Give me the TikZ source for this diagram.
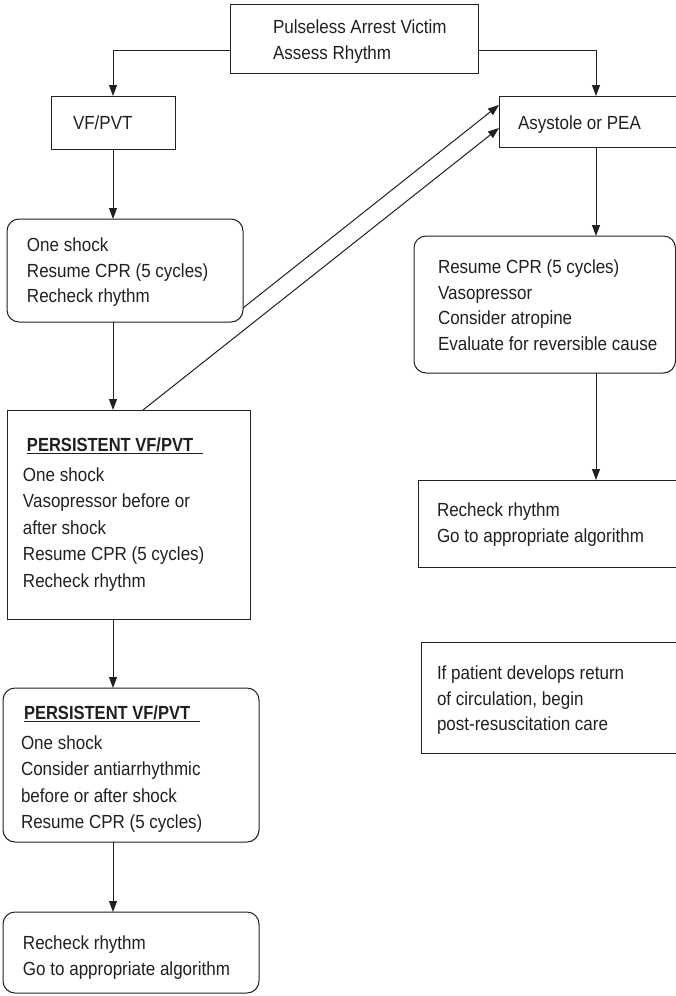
\documentclass[tikz,border=0pt]{standalone}
\usepackage{fontspec}
\setmainfont[FakeStretch=0.895]{Liberation Sans}
\newfontfamily\headfont[FakeStretch=0.87]{Liberation Sans}
\usetikzlibrary{arrows.meta}
\definecolor{ink}{HTML}{231F20}
% underline that runs a little past the heading text
\newcommand\headrule{\rlap{\color{ink}\rule[-2.8pt]{176pt}{1.3pt}}}

\begin{document}
\begin{tikzpicture}[x=1pt,y=-1pt,
  box/.style={draw=ink, line width=1pt, inner sep=0pt, outer sep=0pt},
  rbox/.style={box, rounded corners=12pt},
  txt/.style={anchor=north west, inner sep=0pt, outer sep=0pt, align=left,
              text=ink, font=\fontsize{19}{25.5}\selectfont},
  wide/.style={font=\fontsize{19}{26.4}\selectfont},
  head/.style={txt, font=\fontsize{19}{25.5}\selectfont\headfont\bfseries},
  arr/.style={draw=ink, line width=1pt, -{Triangle[length=11pt,width=8pt]}},
]
\useasboundingbox (0,0) rectangle (676,996);

% boxes
\node[box,  minimum width=248pt, minimum height=69pt]  (top)  at (354,38.5)   {};
\node[box,  minimum width=124pt, minimum height=53pt]  (vf)   at (113,122.5)  {};
\node[box,  minimum width=194pt, minimum height=51pt]  (asy)  at (596,121.5)  {};
\node[rbox, minimum width=236pt, minimum height=103pt] (ls1)  at (125,270.5)  {};
\node[rbox, minimum width=261.5pt, minimum height=137pt] (rs1) at (544.75,304.5) {};
\node[box,  minimum width=243pt, minimum height=209pt] (p1)   at (128.5,514.5) {};
\node[box,  minimum width=272pt, minimum height=87pt]  (rchk) at (554,523.5)  {};
\node[box,  minimum width=269pt, minimum height=111pt] (ifp)  at (555.5,697.5) {};
\node[rbox, minimum width=256pt, minimum height=154pt] (p2)   at (131,765)    {};
\node[rbox, minimum width=256pt, minimum height=81pt]  (l4)   at (131,952.5)  {};

% texts
\node[txt] (topT) at (273,19)
  {\rule{0pt}{14.5pt}Pulseless Arrest Victim\\Assess Rhythm};
\node[txt] (vfT) at (73,115) {\rule{0pt}{14.5pt}VF/PVT};
\node[txt] (asyT) at (518,115) {\rule{0pt}{14.5pt}Asystole or PEA};
\node[txt] (ls1T) at (27,237)
  {\rule{0pt}{14.5pt}One shock\\Resume CPR (5 cycles)\\Recheck rhythm};
\node[txt] (rs1T) at (438,259)
  {\rule{0pt}{14.5pt}Resume CPR (5 cycles)\\Vasopressor\\Consider atropine\\Evaluate for reversible cause};
\node[head] (p1H) at (27,437) {\rule{0pt}{14.5pt}\headrule PERSISTENT VF/PVT};
\node[txt,wide] (p1T) at (23,467)
  {\rule{0pt}{14.5pt}One shock\\Vasopressor before or\\after shock\\Resume CPR (5 cycles)\\Recheck rhythm};
\node[txt] (rchkT) at (437,502)
  {\rule{0pt}{14.5pt}Recheck rhythm\\Go to appropriate algorithm};
\node[txt] (ifpT) at (437,665)
  {\rule{0pt}{14.5pt}If patient develops return\\of circulation, begin\\post-resuscitation care};
\node[head] (p2H) at (24,705) {\rule{0pt}{14.5pt}\headrule PERSISTENT VF/PVT};
\node[txt,wide] (p2T) at (21,735)
  {\rule{0pt}{14.5pt}One shock\\Consider antiarrhythmic\\before or after shock\\Resume CPR (5 cycles)};
\node[txt] (l4T) at (23,935)
  {\rule{0pt}{14.5pt}Recheck rhythm\\Go to appropriate algorithm};

% connectors
\draw[arr] ([yshift=-11.5pt]top.west) -| (vf.north);
\draw[arr] ([yshift=-11.5pt]top.east) -| (asy.north);
\draw[arr] (vf.south) -- (vf.south |- ls1.north);
\draw[arr] (vf.south |- ls1.south) -- (vf.south |- p1.north);
\draw[arr] (vf.south |- p1.south) -- (vf.south |- p2.north);
\draw[arr] (vf.south |- p2.south) -- (vf.south |- l4.north);
\draw[arr] ([yshift=-37.5pt]ls1.east) -- ([yshift=16.5pt]asy.west);
\draw[arr] ([xshift=14.5pt]p1.north) -- ([yshift=-6.5pt]asy.west);
\draw[arr] (asy.south) -- (asy.south |- rs1.north);
\draw[arr] (asy.south |- rs1.south) -- (asy.south |- rchk.north);
\end{tikzpicture}
\end{document}
